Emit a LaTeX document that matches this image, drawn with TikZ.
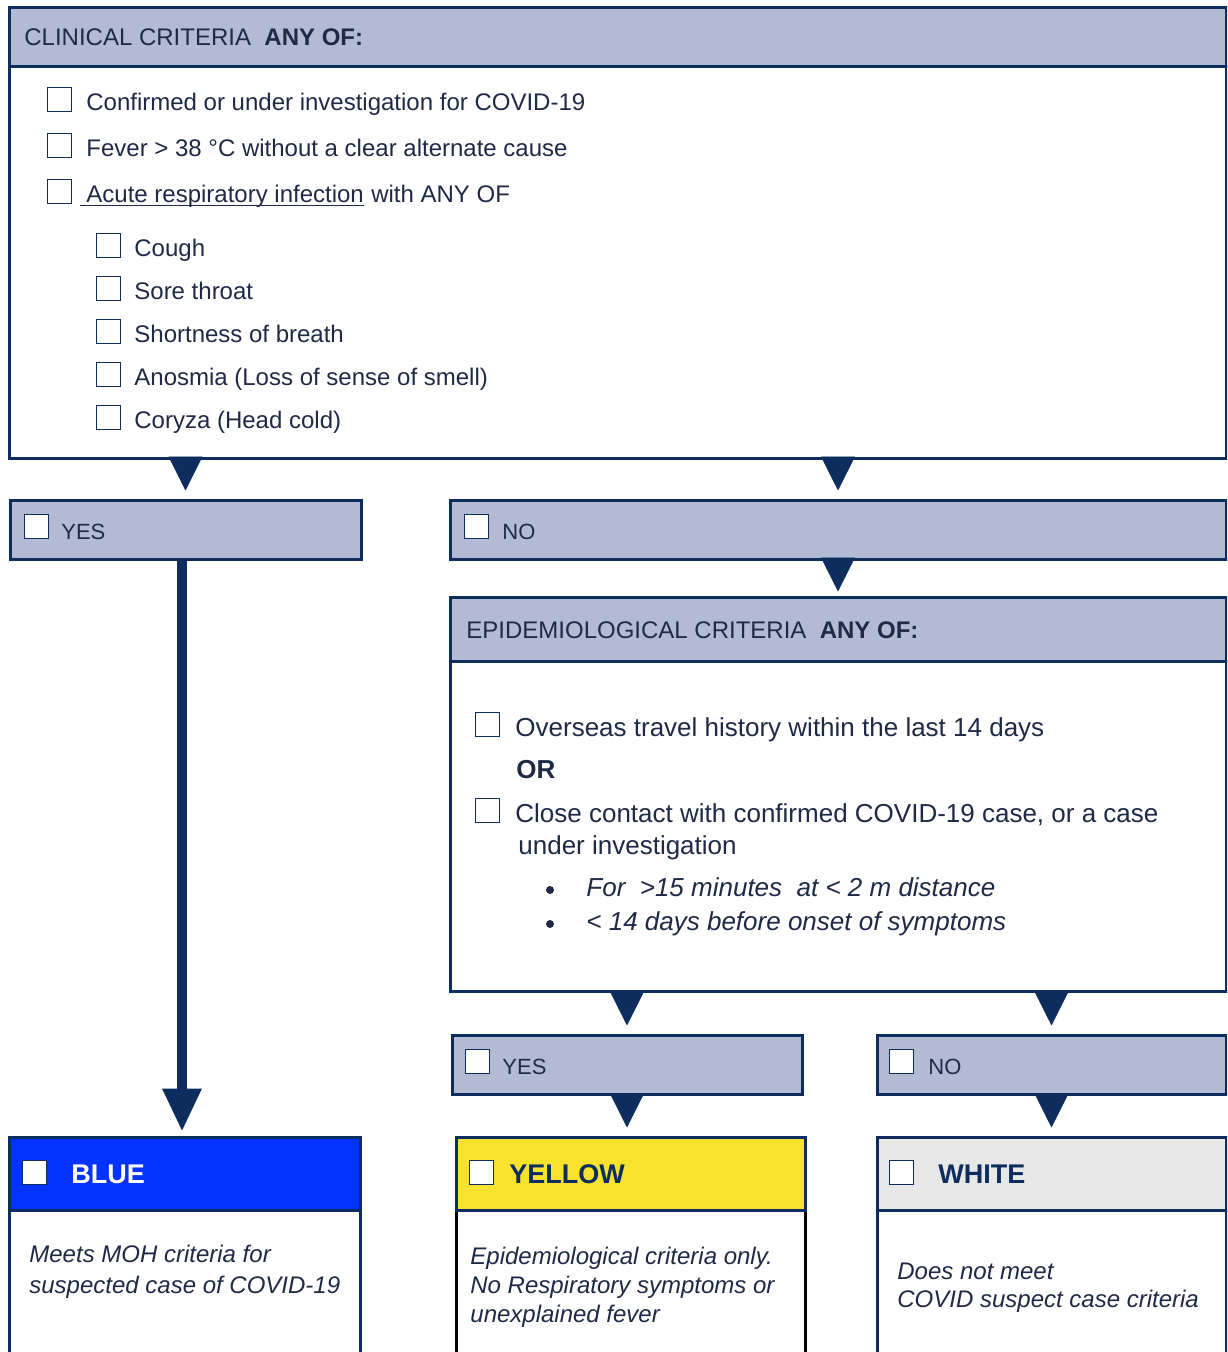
\documentclass[tikz,border=0pt]{standalone}
\usepackage{fontspec}
\setmainfont{Liberation Sans}
\usetikzlibrary{arrows.meta, fit, positioning}

\definecolor{navy}{RGB}{12,45,94}
\definecolor{ink}{RGB}{30,42,70}
\definecolor{lav}{RGB}{179,187,212}
\definecolor{bluebg}{RGB}{4,51,255}
\definecolor{yellowbg}{RGB}{248,226,46}
\definecolor{greybg}{RGB}{232,232,232}

\tikzset{
  hdrbox/.style = {draw = navy, line width = 1.5pt, fill = lav, inner sep = 0pt},
  bodybox/.style = {draw = navy, line width = 1.5pt, fill = white, inner sep = 0pt},
  chk/.style = {draw = navy, line width = 0.7pt, fill = white, minimum size = 12pt, inner sep = 0pt, anchor = north west},
  hdtxt/.style = {anchor = base west, inner sep = 0pt, text = ink, font = \fontsize{12}{14}\selectfont},
  itemtxt/.style = {anchor = base west, inner sep = 0pt, text = ink, font = \fontsize{12}{14}\selectfont},
  epitxt/.style = {itemtxt, font = \fontsize{13}{15}\selectfont},
  anstxt/.style = {itemtxt, font = \fontsize{11}{13}\selectfont},
  notetxt/.style = {itemtxt, font = \itshape\fontsize{12}{14}\selectfont},
  epinote/.style = {itemtxt, font = \itshape\fontsize{13}{15}\selectfont},
  swatch/.style = {anchor = base west, inner sep = 0pt, text = navy, font = \bfseries\fontsize{13.5}{16}\selectfont},
  flag/.style = {navy, line width = 0.4pt, -{Triangle[width = 17pt, length = 17pt]}, shorten > = 4pt},
  bigarrow/.style = {navy, line width = 5pt, -{Triangle[width = 20pt, length = 21pt, line width = 0pt]}, shorten > = 2.5pt}
}

\begin{document}
\begin{tikzpicture}[x = 0.5pt, y = -0.5pt]
\useasboundingbox (0,0) rectangle (1227,1352);
\clip (0,0) rectangle (1227,1352);

\node[bodybox, fit = {(9,67) (1226,458)}] (clinbd) {};
\node[hdrbox, fit = {(9,8) (1226,67)}] (clinhd) {};
\node[hdtxt] (clinttl) at (24,46) {CLINICAL CRITERIA\ \ \textbf{ANY OF:}};

\node[chk] (c1) at (47,87) {};
\node[itemtxt] (ct1) at (86,111) {Confirmed or under investigation for COVID-19};
\node[chk] (c2) at (47,133) {};
\node[itemtxt] (ct2) at (86,157) {Fever > 38 °C without a clear alternate cause};
\node[chk] (c3) at (47,179) {};
\node[itemtxt] (ct3) at (86,203) {Acute respiratory infection};
\node[itemtxt] (ct3b) at (ct3.base east) {\ with ANY OF};
\draw[ink, line width = 0.6pt] ([xshift = -3pt, yshift = -1.3pt]ct3.base west) -- ([yshift = -1.3pt]ct3.base east);

\foreach \yy/\txt [count = \i] in {233/Cough, 276/Sore throat, 319/Shortness of breath, 362/Anosmia (Loss of sense of smell), 405/Coryza (Head cold)} {
  \node[chk] (sub\i) at (96,\yy) {};
  \node[itemtxt] (subt\i) at (134,\yy+24) {\txt};
}

\node[hdrbox, fit = {(10,500) (361,559)}] (yesa) {};
\node[chk] (yesachk) at (24,514) {};
\node[anstxt] (yesatxt) at (61,539) {YES};
\node[hdrbox, fit = {(450,500) (1226,559)}] (noa) {};
\node[chk] (noachk) at (464,514) {};
\node[anstxt] (noatxt) at (502,539) {NO};

\node[bodybox, fit = {(450,661) (1226,991)}] (epibd) {};
\node[hdrbox, fit = {(450,597) (1226,661)}] (epihd) {};
\node[hdtxt] (epittl) at (466,638) {EPIDEMIOLOGICAL CRITERIA\ \ \textbf{ANY OF:}};
\node[chk] (e1) at (475,712) {};
\node[epitxt] (et1) at (515,736) {Overseas travel history within the last 14 days};
\node[epitxt, font = \bfseries\fontsize{13}{15}\selectfont] (etor) at (516,778) {OR};
\node[chk] (e2) at (475,798) {};
\node[epitxt] (et2) at (515,822) {Close contact with confirmed COVID-19 case, or a case};
\node[epitxt] (et2b) at (518,854) {under investigation};
\fill[ink] (550,890) circle (2pt);
\node[epinote] (eb1) at (586,896) {For\ \ >15 minutes\ \ at < 2 m distance};
\fill[ink] (550,924) circle (2pt);
\node[epinote] (eb2) at (586,930) {< 14 days before onset of symptoms};

\node[hdrbox, fit = {(452,1035) (802,1094)}] (yesb) {};
\node[chk] (yesbchk) at (465,1049) {};
\node[anstxt] (yesbtxt) at (502,1074) {YES};
\node[hdrbox, fit = {(877,1035) (1226,1094)}] (nob) {};
\node[chk] (nobchk) at (889,1049) {};
\node[anstxt] (nobtxt) at (928,1074) {NO};

\node[bodybox, fit = {(9,1210) (360,1400)}] (bluebd) {};
\node[hdrbox, fill = bluebg, fit = {(9,1137) (360,1210)}] (bluehd) {};
\node[chk] (bluechk) at (22,1160) {};
\node[swatch, text = white] (bluetxt) at (71,1183) {BLUE};
\node[notetxt] (bluen1) at (29,1262) {Meets MOH criteria for};
\node[notetxt] (bluen2) at (29,1293) {suspected case of COVID-19};

\node[bodybox, draw = black, fit = {(456,1210) (805,1400)}] (yellowbd) {};
\node[hdrbox, fill = yellowbg, fit = {(456,1137) (805,1210)}] (yellowhd) {};
\node[chk] (yellowchk) at (469,1160) {};
\node[swatch] (yellowtxt) at (509,1183) {YELLOW};
\node[notetxt] (yellown1) at (470,1264) {Epidemiological criteria only.};
\node[notetxt] (yellown2) at (470,1293) {No Respiratory symptoms or};
\node[notetxt] (yellown3) at (470,1322) {unexplained fever};

\node[bodybox, fit = {(877,1210) (1226,1400)}] (whitebd) {};
\node[hdrbox, fill = greybg, fit = {(877,1137) (1226,1210)}] (whitehd) {};
\node[chk] (whitechk) at (889,1160) {};
\node[swatch] (whitetxt) at (938,1183) {WHITE};
\node[notetxt] (whiten1) at (897,1279) {Does not meet};
\node[notetxt] (whiten2) at (897,1307) {COVID suspect case criteria};

\draw[flag] (yesa.north |- clinbd.south) -- (yesa.north);
\draw[flag] (noa.north |- clinbd.south) -- (noa.north);
\draw[flag, shorten > = 2pt] (noa.south) -- (epihd.north);
\draw[flag] (yesb.north |- epibd.south) -- (yesb.north);
\draw[flag] (nob.north |- epibd.south) -- (nob.north);
\draw[flag] (yesb.south) -- (yesb.south |- yellowhd.north);
\draw[flag] (nob.south) -- (nob.south |- whitehd.north);
\draw[bigarrow] ([xshift = -1.75pt]yesa.south) -- ([xshift = -1.75pt]yesa.south |- bluehd.north);
\end{tikzpicture}
\end{document}
